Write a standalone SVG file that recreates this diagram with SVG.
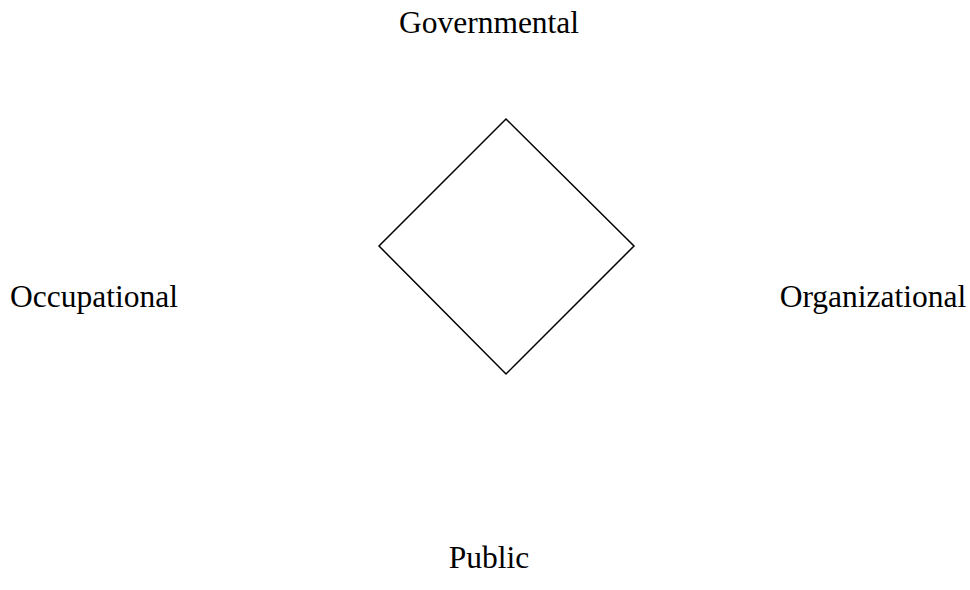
<svg xmlns="http://www.w3.org/2000/svg" width="970" height="590" viewBox="0 0 970 590">
  <style>
    .label { font-family: "Liberation Serif", "Times New Roman", serif; font-size: 31.5px; fill: #000; }
    .shape { fill: none; stroke: #000; stroke-width: 1.5; stroke-linejoin: miter; }
  </style>
  <rect width="970" height="590" fill="#fff"/>
  <g id="diamond">
    <polygon class="shape" points="506,119 634,246 506,374 379,246"/>
  </g>
  <g id="governmental">
    <text class="label" x="489" y="33" text-anchor="middle">Governmental</text>
  </g>
  <g id="occupational">
    <text class="label" x="94" y="307" text-anchor="middle">Occupational</text>
  </g>
  <g id="organizational">
    <text class="label" x="873" y="307" text-anchor="middle">Organizational</text>
  </g>
  <g id="public">
    <text class="label" x="489" y="568" text-anchor="middle">Public</text>
  </g>
</svg>
